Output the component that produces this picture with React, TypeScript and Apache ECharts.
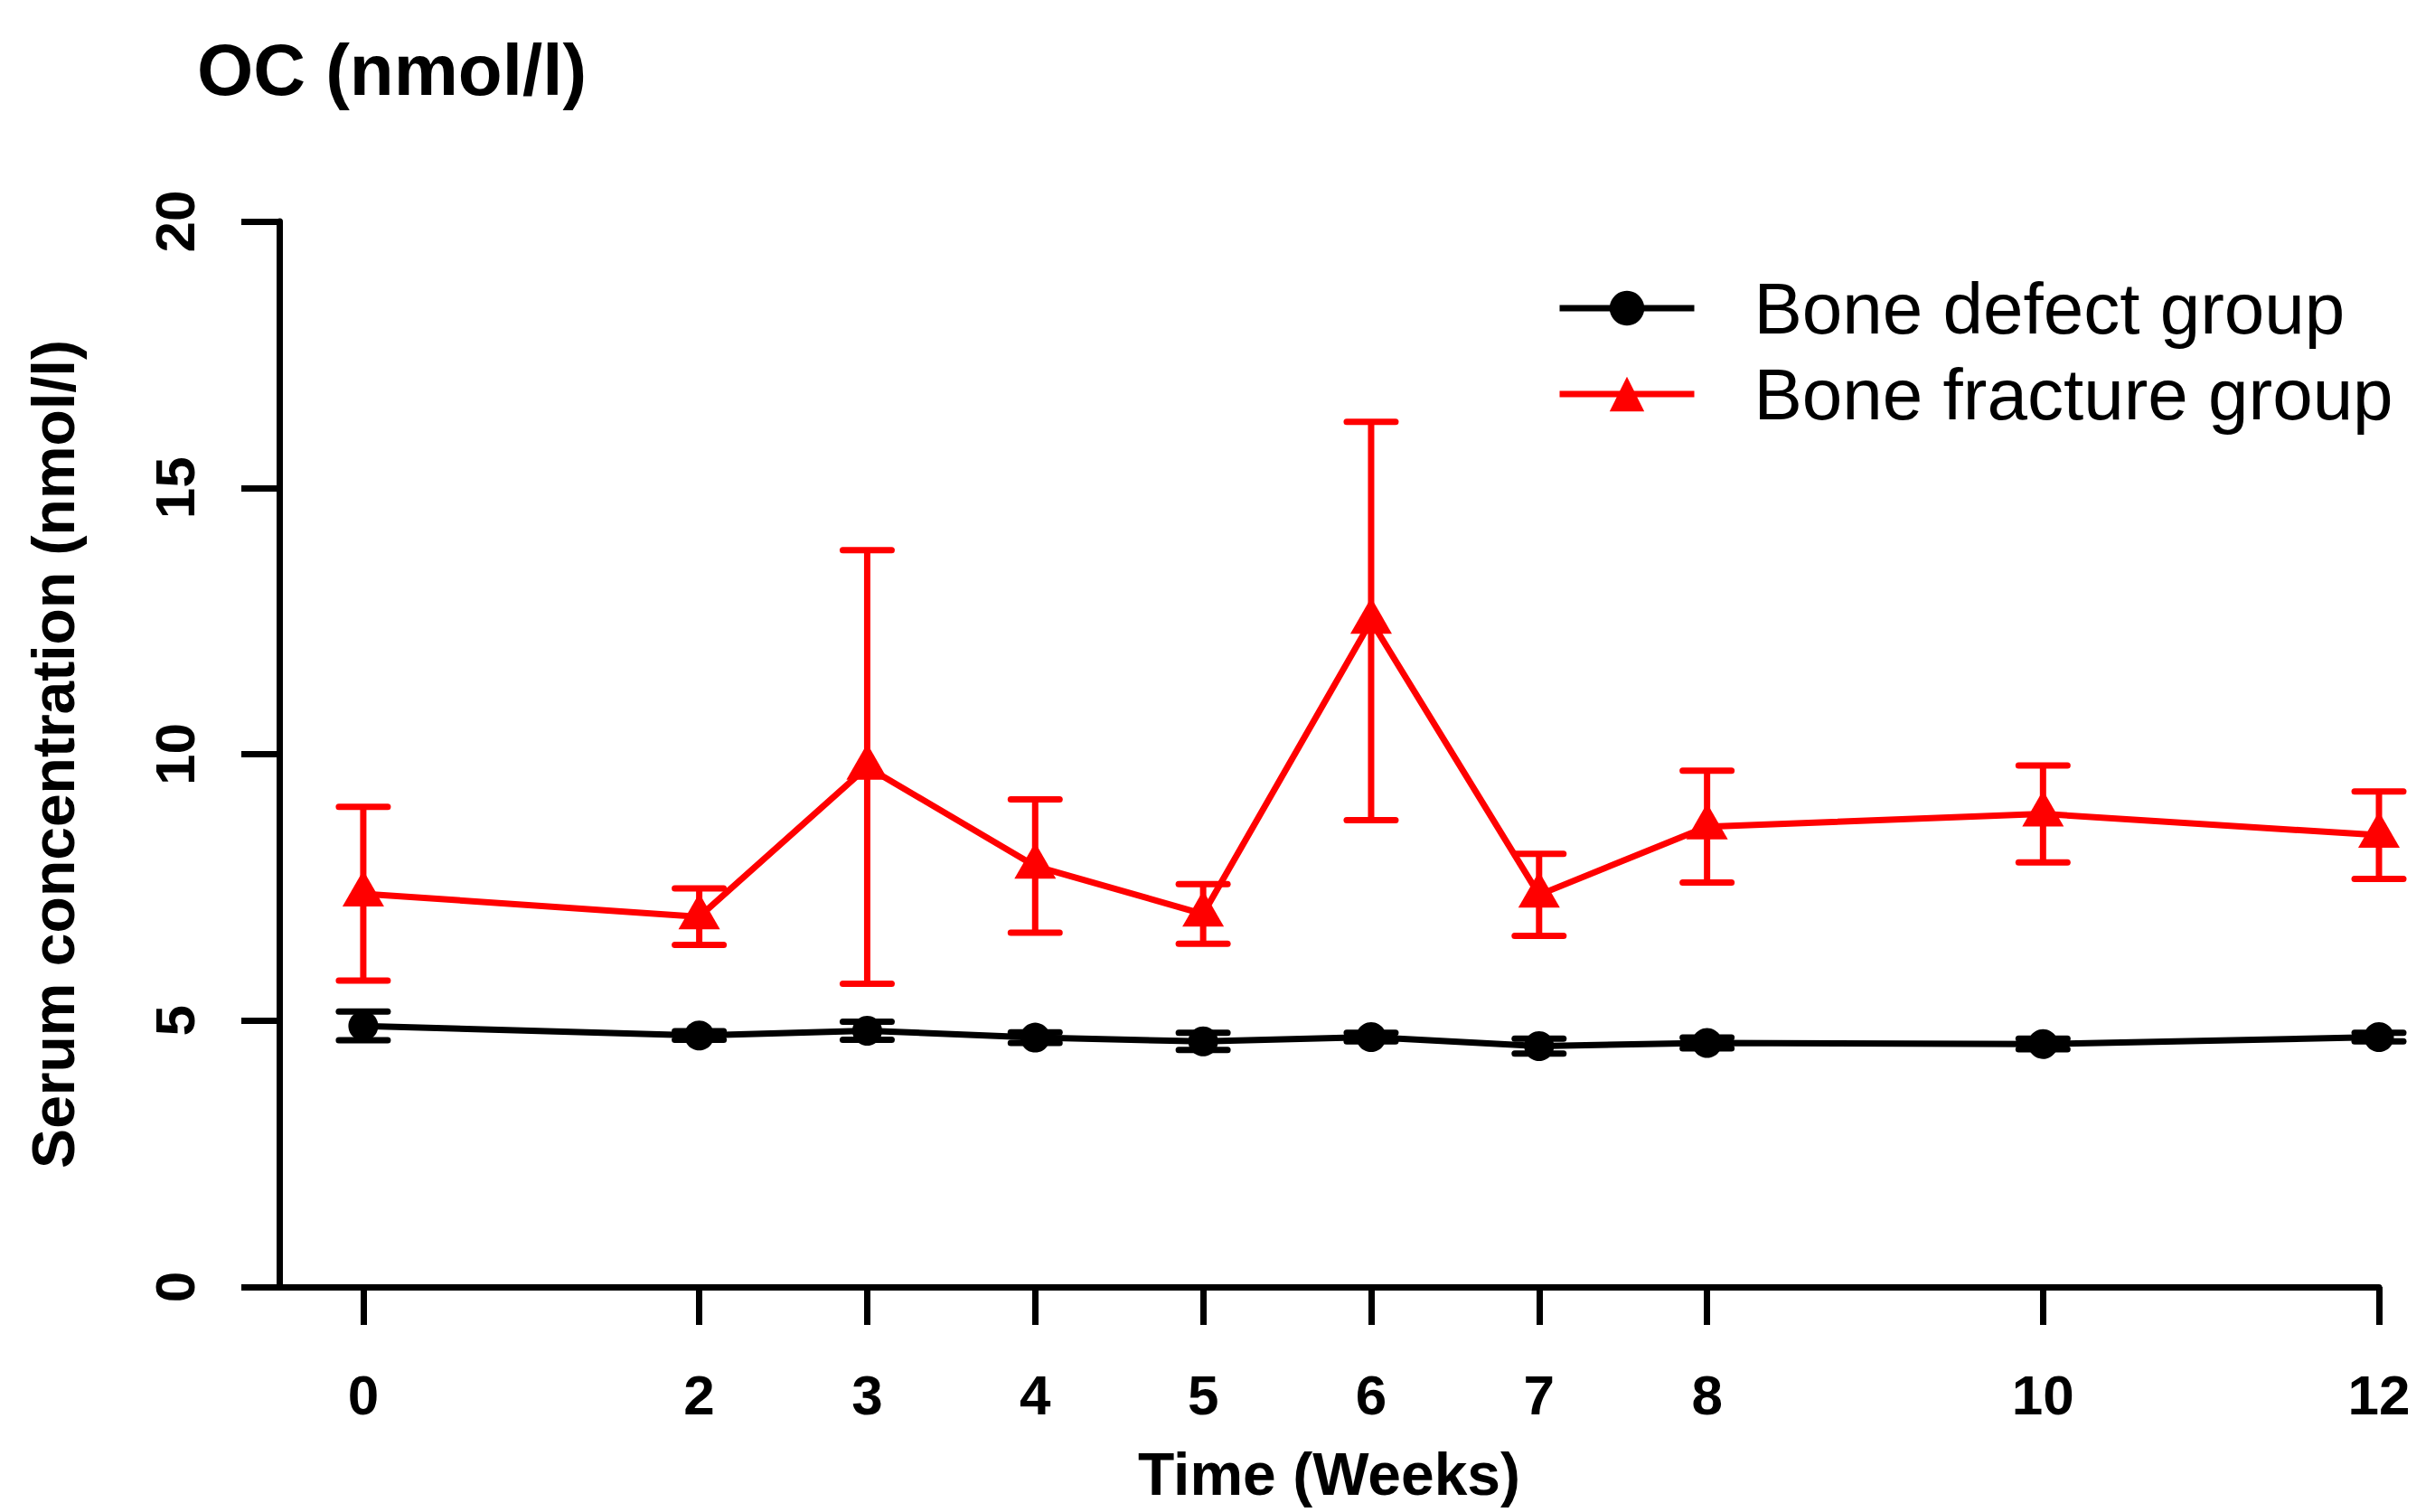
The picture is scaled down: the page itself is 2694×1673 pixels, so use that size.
import React, { useEffect, useRef } from "react";
import * as echarts from "echarts";

const weeks = [0, 2, 3, 4, 5, 6, 7, 8, 10, 12];
const defectMean = [4.9, 4.72, 4.81, 4.68, 4.61, 4.69, 4.52, 4.58, 4.56, 4.69];
const defectSD = [0.27, 0.08, 0.17, 0.1, 0.16, 0.08, 0.14, 0.1, 0.1, 0.08];
const fractureMean = [7.38, 6.95, 9.76, 7.9, 7.0, 12.5, 7.36, 8.64, 8.88, 8.48];
const fractureSD = [1.63, 0.53, 4.07, 1.25, 0.56, 3.74, 0.77, 1.05, 0.91, 0.82];
const yTicks = [0, 5, 10, 15, 20];
const seriesNames = ["Bone defect group", "Bone fracture group"];
const titleText = "OC (nmol/l)";
const xName = "Time (Weeks)";
const yName = "Serum concentration (nmol/l)";

const FONT = "'Liberation Sans', Arial, Helvetica, sans-serif";

function errorSeries(name: string, means: number[], sds: number[], color: string) {
  return {
    type: "custom",
    name,
    z: 3,
    data: weeks.map((w, i) => [w, means[i] - sds[i], means[i] + sds[i]]),
    encode: { x: 0, y: [1, 2] },
    renderItem: (params: any, api: any) => {
      const x = api.value(0);
      const lo = api.coord([x, api.value(1)]);
      const hi = api.coord([x, api.value(2)]);
      const hw = 27;
      const vStyle = { stroke: color, lineWidth: 7, lineCap: "butt" };
      const cStyle = { stroke: color, lineWidth: 7, lineCap: "round" };
      return {
        type: "group",
        children: [
          { type: "line", shape: { x1: lo[0], y1: lo[1], x2: hi[0], y2: hi[1] }, style: vStyle },
          { type: "line", shape: { x1: lo[0] - hw, y1: lo[1], x2: lo[0] + hw, y2: lo[1] }, style: cStyle },
          { type: "line", shape: { x1: hi[0] - hw, y1: hi[1], x2: hi[0] + hw, y2: hi[1] }, style: cStyle },
        ],
      };
    },
  };
}

export default function App() {
  const ref = useRef<HTMLDivElement>(null);
  useEffect(() => {
    if (!ref.current) return;
    const chart = echarts.init(ref.current, null, { renderer: "svg" });
    const legendItemH = 48;
    const legendLineH = 80;
    chart.setOption({
      animation: false,
      backgroundColor: "#ffffff",
      title: {
        text: titleText,
        left: 218,
        top: 37,
        padding: 0,
        textStyle: { fontFamily: FONT, fontWeight: "bold", fontSize: 80, color: "#000" },
      },
      legend: {
        orient: "vertical",
        left: 1722,
        top: 341 - legendLineH / 2,
        padding: 0,
        itemWidth: 149,
        itemHeight: legendItemH,
        itemGap: 95 - legendLineH,
        data: seriesNames,
        lineStyle: { width: 7 },
        textStyle: {
          fontFamily: FONT,
          fontSize: 80,
          lineHeight: legendLineH,
          color: "#000",
          padding: [0, 0, 0, 61],
        },
      },
      grid: {
        left: 309,
        right: 62,
        top: 245,
        bottom: 1673 - 1424,
        containLabel: false,
        outerBoundsMode: "none",
      },
      xAxis: {
        type: "value",
        min: -0.5,
        max: 12,
        name: xName,
        nameLocation: "middle",
        nameGap: 174,
        nameTextStyle: { fontFamily: FONT, fontWeight: "bold", fontSize: 66, color: "#000" },
        splitLine: { show: false },
        axisLine: { onZero: false, lineStyle: { color: "#000", width: 7, cap: "round" } },
        axisTick: { customValues: weeks, length: 42, lineStyle: { color: "#000", width: 7 } },
        axisLabel: {
          customValues: weeks,
          margin: 88,
          fontFamily: FONT,
          fontWeight: "bold",
          fontSize: 62,
          color: "#000",
        },
      },
      yAxis: {
        type: "value",
        min: 0,
        max: 20,
        interval: 5,
        name: yName,
        nameLocation: "middle",
        nameRotate: 90,
        nameGap: 217,
        nameTextStyle: { fontFamily: FONT, fontWeight: "bold", fontSize: 66, color: "#000" },
        splitLine: { show: false },
        axisLine: { onZero: false, lineStyle: { color: "#000", width: 7 } },
        axisTick: { customValues: yTicks, length: 42, lineStyle: { color: "#000", width: 7 } },
        axisLabel: {
          customValues: yTicks,
          rotate: 90,
          margin: 85,
          fontFamily: FONT,
          fontWeight: "bold",
          fontSize: 62,
          color: "#000",
        },
      },
      series: [
        errorSeries("defect-err", defectMean, defectSD, "#000000"),
        errorSeries("fracture-err", fractureMean, fractureSD, "#ff0000"),
        {
          type: "line",
          name: seriesNames[0],
          z: 4,
          data: weeks.map((w, i) => [w, defectMean[i]]),
          symbol: "circle",
          symbolSize: 33,
          showAllSymbol: true,
          itemStyle: { color: "#000000" },
          lineStyle: { color: "#000000", width: 7 },
        },
        {
          type: "line",
          name: seriesNames[1],
          z: 4,
          data: weeks.map((w, i) => [w, fractureMean[i]]),
          symbol: "triangle",
          symbolSize: [46, 40],
          symbolOffset: [0, -6],
          showAllSymbol: true,
          itemStyle: { color: "#ff0000" },
          lineStyle: { color: "#ff0000", width: 7 },
        },
      ],
    });
    return () => chart.dispose();
  }, []);
  return (
    <div
      ref={ref}
      style={{ position: "absolute", left: 0, top: 0, width: 2694, height: 1673, background: "#fff" }}
    />
  );
}
